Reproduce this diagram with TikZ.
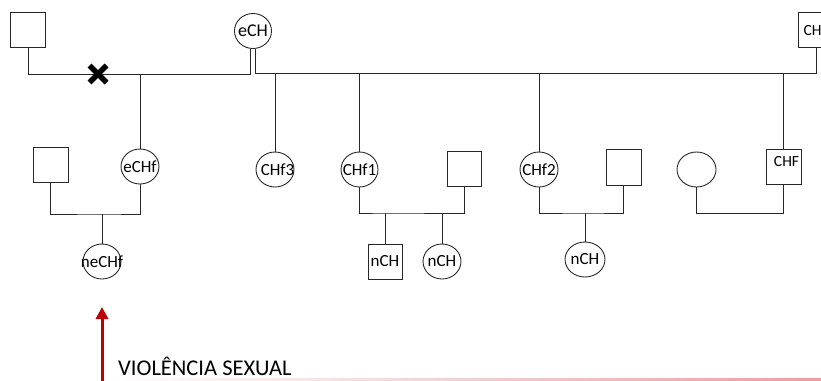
\documentclass[tikz,border=0pt]{standalone}
\usepackage{fontspec}
\setmainfont{Carlito}
\usetikzlibrary{shapes.geometric,arrows.meta}
\definecolor{darkred}{RGB}{192,0,0}
\definecolor{pinkline}{RGB}{232,160,160}
\definecolor{linegray}{RGB}{40,40,40}
\newcommand{\zw}[1]{\makebox[0pt]{#1}}
\tikzset{
  person/.style={draw=linegray,line width=0.9pt,inner sep=0pt,font=\fontsize{17}{19}\selectfont},
  male/.style={person,rectangle,minimum width=35pt,minimum height=35pt},
  female/.style={person,ellipse,minimum width=38pt,minimum height=35pt},
  link/.style={draw=linegray,line width=0.9pt},
  cross/.style={draw=black,line width=5.5pt},
  violence/.style={draw=darkred,line width=3pt,-{Triangle[width=12pt,length=12pt]}},
  caption/.style={font=\fontsize{22.5}{25}\selectfont,inner sep=0pt,anchor=base west},
  tag/.style={inner sep=0pt,font=\fontsize{15.5}{18}\selectfont}
}
\begin{document}
\begin{tikzpicture}[x=1pt,y=-1pt]
\useasboundingbox (0,0) rectangle (821,380);
% generation I
\node[male] (sqA) at (28,29.5) {};
\node[female,minimum width=37pt,font=\fontsize{18}{20}\selectfont] (eCH) at (253,31) {\zw{eCH}};
\node[male] (chTop) at (816,29.5) {};
\node[tag] (chTopT) at (812.5,31) {CH};
% generation II
\node[male] (sqB) at (50.5,165) {};
\node[female] (eCHf) at (140,166.5) {\zw{eCHf}};
\node[female] (CHf3) at (275,169.5) {\zw{\hspace{5pt}CHf3}};
\node[female,minimum width=37pt] (CHf1) at (359.5,169.5) {\zw{CHf1}};
\node[male,minimum width=34pt] (sqC) at (464,168.5) {};
\node[female] (CHf2) at (539,169.5) {\zw{CHf2}};
\node[male,minimum height=36pt] (sqD) at (623.5,167) {};
\node[female,minimum width=39pt] (empty) at (696.5,169.5) {};
\node[male] (CHF) at (783.5,166.5) {};
\node[tag] (CHFt) at (786.5,162) {CHF};
% generation III
\node[female] (neCHf) at (102,261.5) {\zw{neCHf}};
\node[male,minimum width=34pt] (nCHs) at (385,261.5) {\zw{nCH}};
\node[female] (nCHc) at (442,261.5) {\zw{nCH}};
\node[female,minimum width=40pt] (nCH2) at (585,259.5) {\zw{nCH}};
% junction points
\coordinate (jL) at (250.5,74);
\coordinate (jR) at (255.5,73);
\coordinate (mB) at (102,214);
\coordinate (mC) at (385,213);
\coordinate (mD) at (585,213);
\coordinate (mE) at (696.5,213);
\coordinate (xmark) at (98,74);
% first couple (separated) and second couple
\draw[link] (sqA.south) |- (jL) -- ([xshift=-2.5pt]eCH.south);
\draw[link] ([xshift=2.5pt]eCH.south) -- (jR) -| (chTop.south);
\draw[link] (eCHf.north) -- (eCHf.north |- jL);
\draw[link] (CHf3.north) -- (CHf3.north |- jR);
\draw[link] (CHf1.north) -- (CHf1.north |- jR);
\draw[link] (CHf2.north) -- (CHf2.north |- jR);
\draw[link] (CHF.north) -- (CHF.north |- jR);
% separation mark
\draw[cross] ([shift={(-8.5,-8.5)}]xmark) -- ([shift={(8.5,8.5)}]xmark);
\draw[cross] ([shift={(-8.5,8.5)}]xmark) -- ([shift={(8.5,-8.5)}]xmark);
% lower couples
\draw[link] (sqB.south) |- (mB) -| (eCHf.south);
\draw[link] (mB) -- (neCHf.north);
\draw[link] (CHf1.south) |- (mC) -| (sqC.south);
\draw[link] (mC) -- (nCHs.north);
\draw[link] (nCHc.north) -- (nCHc.north |- mC);
\draw[link] (CHf2.south) |- (mD) -| (sqD.south);
\draw[link] (mD) -- (nCH2.north);
\draw[link] (empty.south) |- (mE) -| (CHF.south);
% sexual violence arrow
\coordinate (arrowBase) at (102,382);
\node[caption] (vs) at (118,375.5) {VIOLÊNCIA SEXUAL};
\draw[violence] (arrowBase) -- (neCHf.south |- 0,307);
\shade[left color=white,right color=pinkline] (110,378.6) rectangle (821,380);
\end{tikzpicture}
\end{document}
